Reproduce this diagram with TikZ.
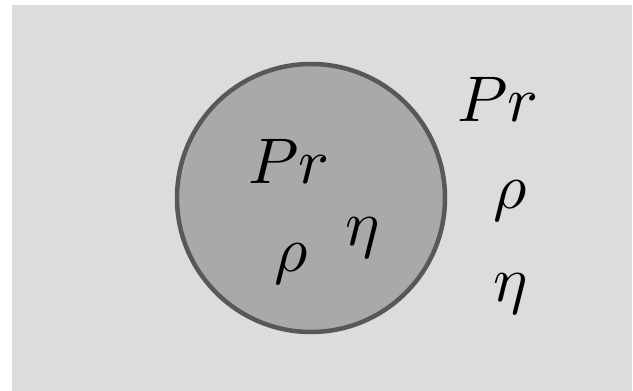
\documentclass[tikz,border=0pt]{standalone}
\begin{document}
\begin{tikzpicture}[x=1pt,y=-1pt,
  lbl/.style={anchor=base,inner sep=0pt,scale=6.45}]
\useasboundingbox (0,0) rectangle (633,391);
\fill[white] (0,0) rectangle (633,391);
\fill[fill={rgb,255:red,220;green,220;blue,220}] (12,5) rectangle (632,391);
\node[circle,minimum size=268pt,inner sep=0pt,line width=4.5pt,
  draw={rgb,255:red,88;green,88;blue,88},
  fill={rgb,255:red,169;green,169;blue,169}] (ball) at (311,198) {};
\node[lbl] (prin) at (289,183) {$Pr$};
\node[lbl] (rhoin) at (291,271) {$\rho$};
\node[lbl] (etain) at (363,245) {$\eta$};
\node[lbl] (prout) at (498,121) {$Pr$};
\node[lbl] (rhoout) at (510,208) {$\rho$};
\node[lbl] (etaout) at (511,301) {$\eta$};
\end{tikzpicture}
\end{document}
